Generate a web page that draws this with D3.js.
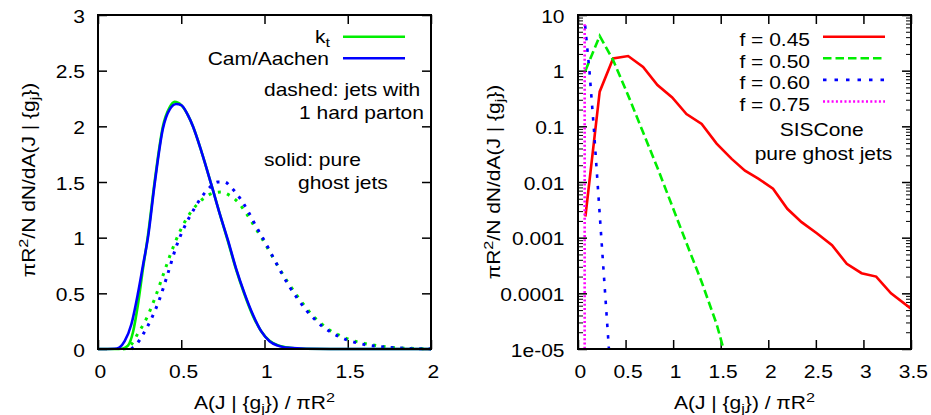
<!DOCTYPE html>
<html>
<head>
<meta charset="utf-8">
<script src="https://cdn.jsdelivr.net/npm/d3@7"></script>
<style>
  body { margin: 0; background: #fff; }
  text { font-family: "Liberation Sans", Arial, sans-serif; font-size: 17.5px; fill: #000; }
</style>
</head>
<body>
<div id="chart"></div>
<script>
// ---- data ----
const leftXTicks = [0, 0.5, 1, 1.5, 2];
const leftYTicks = [0, 0.5, 1, 1.5, 2, 2.5, 3];
const rightXTicks = [0, 0.5, 1, 1.5, 2, 2.5, 3, 3.5];
const rightYTicks = [1e-5, 1e-4, 1e-3, 1e-2, 1e-1, 1, 10];
const rightYLabels = ["1e-05", "0.0001", "0.001", "0.01", "0.1", "1", "10"];

// left panel: kt / Cam-Aachen, pure ghost jets (solid)
const ktPure = [[0,0],[0.1,0],[0.15,0.005],[0.18,0.03],[0.21,0.15],[0.24,0.4],[0.27,0.72],[0.3,1.02],[0.34,1.5],[0.39,2.0],[0.43,2.17],[0.46,2.22],[0.5,2.19],[0.54,2.1],[0.57,2.0],[0.62,1.78],[0.68,1.48],[0.73,1.22],[0.78,0.97],[0.83,0.71],[0.88,0.49],[0.93,0.3],[0.98,0.16],[1.03,0.075],[1.08,0.035],[1.15,0.012],[1.25,0.002],[1.4,0],[2,0]];
const camPure = [[0,0],[0.1,0.002],[0.13,0.015],[0.16,0.07],[0.2,0.22],[0.24,0.5],[0.27,0.75],[0.3,1.0],[0.34,1.48],[0.39,1.98],[0.43,2.15],[0.47,2.2],[0.5,2.19],[0.54,2.1],[0.57,2.0],[0.62,1.78],[0.68,1.48],[0.73,1.22],[0.78,0.98],[0.83,0.72],[0.88,0.5],[0.93,0.31],[0.98,0.16],[1.03,0.07],[1.08,0.03],[1.15,0.01],[1.25,0.002],[1.4,0],[2,0]];
// left panel: jets with 1 hard parton (dotted)
const ktHard = [[0.15,0],[0.17,0.005],[0.2,0.04],[0.24,0.14],[0.29,0.27],[0.34,0.45],[0.39,0.66],[0.44,0.87],[0.49,1.05],[0.54,1.19],[0.59,1.29],[0.64,1.36],[0.69,1.4],[0.74,1.41],[0.79,1.38],[0.84,1.32],[0.89,1.22],[0.94,1.1],[0.99,0.98],[1.04,0.85],[1.09,0.72],[1.14,0.6],[1.19,0.49],[1.24,0.39],[1.29,0.3],[1.34,0.23],[1.39,0.17],[1.44,0.13],[1.5,0.09],[1.6,0.05],[1.7,0.025],[1.8,0.01],[1.9,0.005],[2.0,0.002]];
const camHard = [[0.2,0],[0.23,0.04],[0.27,0.13],[0.32,0.27],[0.37,0.45],[0.42,0.68],[0.47,0.92],[0.52,1.1],[0.57,1.24],[0.62,1.36],[0.67,1.45],[0.72,1.5],[0.76,1.5],[0.8,1.45],[0.85,1.36],[0.9,1.24],[0.95,1.1],[1.0,0.97],[1.05,0.83],[1.1,0.69],[1.15,0.56],[1.2,0.45],[1.25,0.35],[1.3,0.27],[1.35,0.2],[1.4,0.15],[1.45,0.11],[1.5,0.08],[1.6,0.04],[1.7,0.02],[1.8,0.01],[1.9,0.004],[2.0,0.001]];

// right panel: SISCone, pure ghost jets
const sis045 = [[0.078,0.0024],[0.228,0.42],[0.369,1.66],[0.527,1.83],[0.684,1.17],[0.835,0.55],[0.99,0.33],[1.14,0.166],[1.3,0.11],[1.457,0.049],[1.615,0.026],[1.755,0.016],[1.895,0.0115],[2.05,0.0076],[2.2,0.0033],[2.35,0.0019],[2.51,0.0012],[2.67,0.00073],[2.825,0.00034],[2.98,0.00023],[3.134,0.0002],[3.29,0.0001],[3.5,5.3e-5]];
const sis050 = [[0.078,1.0],[0.228,4.2],[0.369,1.55],[0.527,0.36],[0.684,0.078],[0.835,0.018],[0.99,0.0037],[1.14,0.0008],[1.3,0.00016],[1.457,2.8e-5],[1.615,3e-6]];
const sis060 = [[0.075,6.5],[0.12,1.0],[0.165,0.1],[0.205,0.01],[0.245,0.001],[0.285,1e-4],[0.325,1e-5],[0.36,1e-6]];
const sis075 = [[0.07,6.8],[0.07,1e-6]];

const W = 931, H = 415;
const SX = 1.2; // the reference glyphs are stretched horizontally

const svg = d3.select("#chart").append("svg")
    .attr("width", W)
    .attr("height", H);

// text with optional sup/sub parts, stretched horizontally
function label(x, y, anchor, parts, rotate) {
    const t = svg.append("text")
        .attr("transform", `translate(${x},${y})` + (rotate ? " rotate(-90)" : "") + ` scale(${SX},1)`)
        .attr("text-anchor", anchor);
    let shift = 0;
    parts.forEach(p => {
        const s = typeof p === "string" ? [p, null] : p;
        const target = s[1] === "sup" ? -7 : s[1] === "sub" ? 4 : 0;
        const ts = t.append("tspan").attr("dy", target - shift).text(s[0]);
        if (s[1]) ts.attr("font-size", 13.5);
        shift = target;
    });
    return t;
}

function frame(x0, x1, y0, y1) {
    svg.append("rect")
        .attr("x", x0).attr("y", y0)
        .attr("width", x1 - x0).attr("height", y1 - y0)
        .attr("fill", "none").attr("stroke", "#000").attr("stroke-width", 2);
}

function styleTicks(g) {
    g.select(".domain").remove();
    g.selectAll("line").attr("stroke", "#000").attr("stroke-width", 1.5);
    g.attr("font-family", null).attr("font-size", null);
}

// ================= LEFT PANEL =================
const xL = d3.scaleLinear().domain([0, 2]).range([98, 431]);
const yL = d3.scaleLinear().domain([0, 3]).range([349, 15]);

svg.append("g").attr("transform", "translate(0,349)")
    .call(d3.axisBottom(xL).tickValues(leftXTicks).tickSizeInner(-9).tickSizeOuter(0).tickPadding(16.6).tickFormat(d3.format("")))
    .call(styleTicks)
    .call(g => g.selectAll("text").attr("dx", 1.6).attr("transform", `scale(${SX},1)`));
svg.append("g").attr("transform", "translate(0,15)")
    .call(d3.axisTop(xL).tickValues(leftXTicks).tickSizeInner(-9).tickSizeOuter(0).tickFormat(""))
    .call(styleTicks);
svg.append("g").attr("transform", "translate(98,0)")
    .call(d3.axisLeft(yL).tickValues(leftYTicks).tickSizeInner(-9).tickSizeOuter(0).tickFormat(d3.format("")))
    .call(styleTicks)
    .call(g => g.selectAll("text").attr("x", -13 / SX).attr("dy", "0.4em").attr("transform", `scale(${SX},1)`));
svg.append("g").attr("transform", "translate(431,0)")
    .call(d3.axisRight(yL).tickValues(leftYTicks).tickSizeInner(-9).tickSizeOuter(0).tickFormat(""))
    .call(styleTicks);

const lineL = d3.line().x(d => xL(d[0])).y(d => yL(d[1])).curve(d3.curveMonotoneX);

const leftSeries = [
    {data: ktHard, color: "#00ee00", dash: "3,6.5", width: 3},
    {data: camHard, color: "#0000ff", dash: "3,6.5", width: 3},
    {data: ktPure, color: "#00ee00", dash: null, width: 2.6},
    {data: camPure, color: "#0000ff", dash: null, width: 2.6}
];
leftSeries.forEach(s => {
    svg.append("path")
        .attr("d", lineL(s.data))
        .attr("fill", "none")
        .attr("stroke", s.color)
        .attr("stroke-width", s.width)
        .attr("stroke-dasharray", s.dash);
});

frame(98, 431, 15, 349);

// left legend
label(330, 42.7, "end", ["k", ["t", "sub"]]);
label(329, 64.8, "end", ["Cam/Aachen"]);
svg.append("line").attr("x1", 343).attr("x2", 405).attr("y1", 36.7).attr("y2", 36.7)
    .attr("stroke", "#00ee00").attr("stroke-width", 2.6);
svg.append("line").attr("x1", 343).attr("x2", 405).attr("y1", 58.3).attr("y2", 58.3)
    .attr("stroke", "#0000ff").attr("stroke-width", 2.6);
label(264, 95.5, "start", ["dashed: jets with"]);
label(299, 118.5, "start", ["1 hard parton"]);
label(264, 166, "start", ["solid: pure"]);
label(298, 188.5, "start", ["ghost jets"]);

// left axis titles
label(264.5, 409, "middle", ["A(J | {g", ["j", "sub"], "}) / \u03c0R", ["2", "sup"]]);
label(35, 180, "middle", ["\u03c0R", ["2", "sup"], "/N dN/dA(J | {g", ["j", "sub"], "})"], true);

// ================= RIGHT PANEL =================
const xR = d3.scaleLinear().domain([0, 3.5]).range([578, 911]);
const yR = d3.scaleLog().domain([1e-5, 10]).range([349, 15]);
const minorTicks = [];
rightYTicks.slice(0, -1).forEach(m => { for (let k = 2; k <= 9; k++) minorTicks.push(m * k); });

svg.append("g").attr("transform", "translate(0,349)")
    .call(d3.axisBottom(xR).tickValues(rightXTicks).tickSizeInner(-9).tickSizeOuter(0).tickPadding(16.6).tickFormat(d3.format("")))
    .call(styleTicks)
    .call(g => g.selectAll("text").attr("dx", 1.6).attr("transform", `scale(${SX},1)`));
svg.append("g").attr("transform", "translate(0,15)")
    .call(d3.axisTop(xR).tickValues(rightXTicks).tickSizeInner(-9).tickSizeOuter(0).tickFormat(""))
    .call(styleTicks);
svg.append("g").attr("transform", "translate(578,0)")
    .call(d3.axisLeft(yR).tickValues(rightYTicks).tickSizeInner(-9).tickSizeOuter(0).tickFormat((d, i) => rightYLabels[i]))
    .call(styleTicks)
    .call(g => g.selectAll("text").attr("x", -13.5 / SX).attr("dy", "0.4em").attr("transform", `scale(${SX},1)`));
svg.append("g").attr("transform", "translate(911,0)")
    .call(d3.axisRight(yR).tickValues(rightYTicks).tickSizeInner(-9).tickSizeOuter(0).tickFormat(""))
    .call(styleTicks);
svg.append("g").attr("transform", "translate(578,0)")
    .call(d3.axisLeft(yR).tickValues(minorTicks).tickSizeInner(-5).tickSizeOuter(0).tickFormat(""))
    .call(styleTicks)
    .call(g => g.selectAll("line").attr("stroke-width", 1));
svg.append("g").attr("transform", "translate(911,0)")
    .call(d3.axisRight(yR).tickValues(minorTicks).tickSizeInner(-5).tickSizeOuter(0).tickFormat(""))
    .call(styleTicks)
    .call(g => g.selectAll("line").attr("stroke-width", 1));

svg.append("clipPath").attr("id", "clipR")
    .append("rect").attr("x", 578).attr("y", 15).attr("width", 333).attr("height", 334);

const lineR = d3.line().x(d => xR(d[0])).y(d => yR(d[1]));

const rightSeries = [
    {name: "f = 0.45", data: sis045, color: "#ff0000", dash: null, width: 2.6},
    {name: "f = 0.50", data: sis050, color: "#00ee00", dash: "8.5,4", width: 2.6},
    {name: "f = 0.60", data: sis060, color: "#0000ff", dash: "3.5,8", width: 2.6},
    {name: "f = 0.75", data: sis075, color: "#ff00ff", dash: "2,2.3", width: 2.6}
];
const plotR = svg.append("g").attr("clip-path", "url(#clipR)");
rightSeries.forEach(s => {
    plotR.append("path")
        .attr("d", lineR(s.data))
        .attr("fill", "none")
        .attr("stroke", s.color)
        .attr("stroke-width", s.width)
        .attr("stroke-dasharray", s.dash);
});

frame(578, 911, 15, 349);

// right legend
rightSeries.forEach((s, i) => {
    const ly = 36.7 + i * 21.6;
    label(810, ly + 9.3, "end", [s.name]);
    svg.append("line").attr("x1", 823).attr("x2", 885).attr("y1", ly).attr("y2", ly)
        .attr("stroke", s.color).attr("stroke-width", s.width).attr("stroke-dasharray", s.dash);
});
label(821.7, 136, "middle", ["SISCone"]);
label(823.5, 159.5, "middle", ["pure ghost jets"]);

// right axis titles
label(744.5, 409, "middle", ["A(J | {g", ["j", "sub"], "}) / \u03c0R", ["2", "sup"]]);
label(500, 182, "middle", ["\u03c0R", ["2", "sup"], "/N dN/dA(J | {g", ["j", "sub"], "})"], true);
</script>
</body>
</html>
